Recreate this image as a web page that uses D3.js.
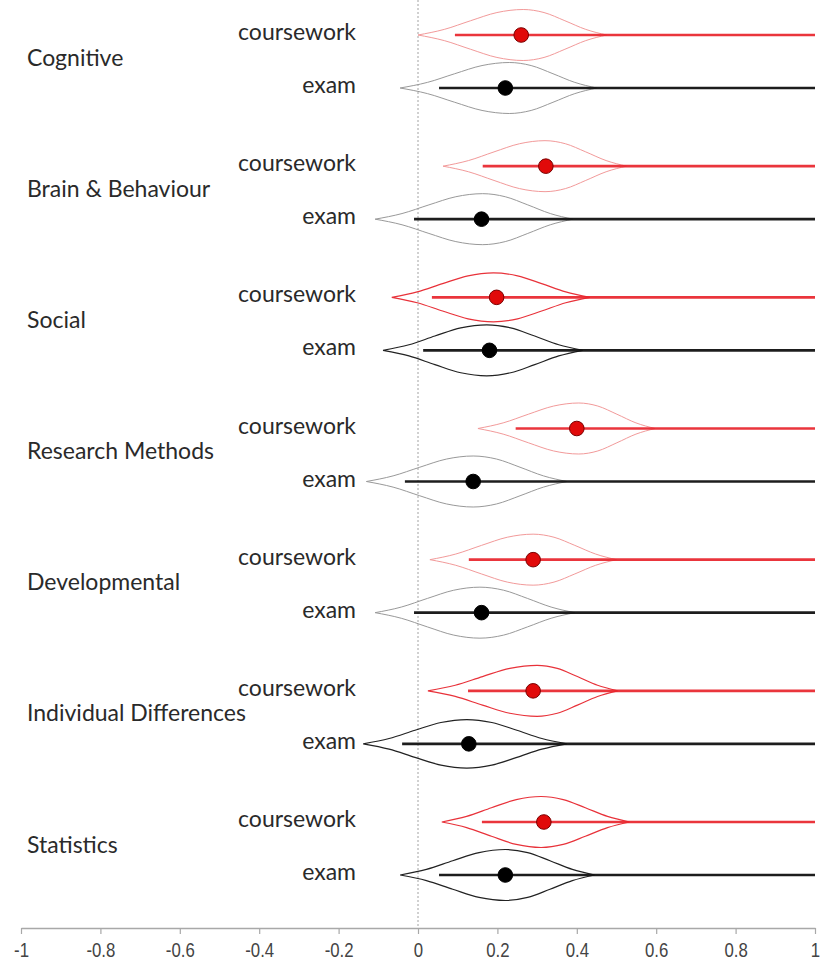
<!DOCTYPE html>
<html>
<head>
<meta charset="utf-8">
<script src="https://cdn.jsdelivr.net/npm/d3@7"></script>
<style>
  html, body { margin: 0; padding: 0; background: #fff; }
  svg { display: block; }
</style>
</head>
<body>
<svg id="chart" width="830" height="962"></svg>
<script>
// ---------------- DATA ----------------
const categories = ["Cognitive", "Brain & Behaviour", "Social", "Research Methods",
                    "Developmental", "Individual Differences", "Statistics"];
const conditions = ["coursework", "exam"];

// point estimates (dots)
const meanCoursework = [0.26, 0.322, 0.198, 0.40, 0.29, 0.29, 0.317];
const meanExam       = [0.22, 0.16, 0.18, 0.139, 0.16, 0.128, 0.22];

// interval lines (lower bound to upper bound)
const lowerCoursework = [0.093, 0.163, 0.035, 0.246, 0.128, 0.126, 0.161];
const lowerExam       = [0.053, -0.01, 0.013, -0.033, -0.01, -0.04, 0.053];
const upperCoursework = [1, 1, 1, 1, 1, 1, 1];
const upperExam       = [1, 1, 1, 1, 1, 1, 1];

// violin extents and modes
const violinMinCoursework  = [0.0, 0.063, -0.066, 0.151, 0.03, 0.025, 0.06];
const violinModeCoursework = [0.265, 0.32, 0.19, 0.405, 0.29, 0.30, 0.31];
const violinMaxCoursework  = [0.475, 0.525, 0.433, 0.597, 0.50, 0.503, 0.533];
const violinMinExam  = [-0.045, -0.108, -0.088, -0.13, -0.108, -0.138, -0.045];
const violinModeExam = [0.23, 0.163, 0.173, 0.139, 0.156, 0.123, 0.22];
const violinMaxExam  = [0.45, 0.39, 0.415, 0.375, 0.395, 0.375, 0.445];
// relative peak density of each violin
const violinPeakCoursework = [1, 1, 0.96, 1, 1, 1, 1];
const violinPeakExam       = [1, 1, 1, 1, 1, 0.95, 1];

// shared violin profile: fraction of distance from tip to mode -> relative density
const profileFrac    = [0, 0.25, 0.5, 0.75, 1];
const profileDensity = [0, 0.22, 0.56, 0.88, 1];

const xTicks = [-1, -0.8, -0.6, -0.4, -0.2, 0, 0.2, 0.4, 0.6, 0.8, 1];
const xTickLabels = ["-1", "-0.8", "-0.6", "-0.4", "-0.2", "0", "0.2", "0.4", "0.6", "0.8", "1"];

// categories whose violins have strong outlines
const strongOutline = new Set(["Social", "Individual Differences", "Statistics"]);

// ---------------- BUILD ROWS ----------------
const rows = [];
categories.forEach((c, i) => {
  rows.push({cat: c, cond: "coursework", mean: meanCoursework[i], lo: lowerCoursework[i], hi: upperCoursework[i],
             vmin: violinMinCoursework[i], vmode: violinModeCoursework[i], vmax: violinMaxCoursework[i], peak: violinPeakCoursework[i]});
  rows.push({cat: c, cond: "exam", mean: meanExam[i], lo: lowerExam[i], hi: upperExam[i],
             vmin: violinMinExam[i], vmode: violinModeExam[i], vmax: violinMaxExam[i], peak: violinPeakExam[i]});
});

// ---------------- SCALES ----------------
const svg = d3.select("#chart");
const x = d3.scaleLinear().domain([-1, 1]).range([21, 815]);
const yCat = d3.scalePoint().domain(categories).range([61.5, 848.5]);
const ySub = d3.scalePoint().domain(conditions).range([-26.5, 26.5]);
const w = d3.scaleLinear().domain([0, 1]).range([0, 25.5]);
const rowY = d => yCat(d.cat) + ySub(d.cond);
const axisY = 928;

const labelFont = "Lato, 'Open Sans', sans-serif";

// zero reference line
svg.append("line")
  .attr("x1", x(0)).attr("x2", x(0))
  .attr("y1", 0).attr("y2", axisY)
  .attr("stroke", "#8a8a8a").attr("stroke-width", 0.8)
  .attr("stroke-dasharray", "2,2");

// violins
const area = d3.area()
  .x(p => x(p[0]))
  .y0(p => p[1])
  .y1(p => p[2])
  .curve(d3.curveMonotoneX);

function violinPoints(d) {
  const cy = rowY(d);
  const pts = [];
  profileFrac.forEach((f, k) => {
    const v = d.vmin + f * (d.vmode - d.vmin);
    const hw = w(profileDensity[k] * d.peak);
    pts.push([v, cy - hw, cy + hw]);
  });
  for (let k = profileFrac.length - 2; k >= 0; k--) {
    const f = profileFrac[k];
    const v = d.vmax - f * (d.vmax - d.vmode);
    const hw = w(profileDensity[k] * d.peak);
    pts.push([v, cy - hw, cy + hw]);
  }
  return pts;
}

const colorFor = d => {
  const strong = strongOutline.has(d.cat);
  if (d.cond === "coursework") return strong ? "#e8323a" : "#f29a9a";
  return strong ? "#222222" : "#999999";
};

svg.append("g").selectAll("path")
  .data(rows).join("path")
  .attr("d", d => area(violinPoints(d)))
  .attr("fill", "none")
  .attr("stroke", colorFor)
  .attr("stroke-width", d => strongOutline.has(d.cat) ? 1.2 : 1);

// interval lines
svg.append("g").selectAll("line")
  .data(rows).join("line")
  .attr("x1", d => x(d.lo)).attr("x2", d => x(d.hi))
  .attr("y1", rowY).attr("y2", rowY)
  .attr("stroke", d => d.cond === "coursework" ? "#e8242b" : "#111")
  .attr("stroke-opacity", d => d.cond === "coursework" ? 0.92 : 0.95)
  .attr("stroke-width", 2.6);

// dots
svg.append("g").selectAll("circle")
  .data(rows).join("circle")
  .attr("cx", d => x(d.mean)).attr("cy", rowY)
  .attr("r", 7.3)
  .attr("fill", d => d.cond === "coursework" ? "#e10a0a" : "#000")
  .attr("stroke", d => d.cond === "coursework" ? "#7a0000" : "#000")
  .attr("stroke-width", 1);

// sub labels
svg.append("g").selectAll("text")
  .data(rows).join("text")
  .attr("x", 356).attr("y", d => rowY(d) - 4)
  .attr("text-anchor", "end")
  .attr("dominant-baseline", "central")
  .attr("font-family", labelFont).attr("font-size", 23)
  .attr("fill", "#2a2a2a")
  .text(d => d.cond);

// category labels
svg.append("g").selectAll("text")
  .data(categories).join("text")
  .attr("x", 27).attr("y", c => yCat(c) - 5)
  .attr("dominant-baseline", "central")
  .attr("font-family", labelFont).attr("font-size", 23)
  .attr("fill", "#2a2a2a")
  .text(c => c);

// x axis
const axis = d3.axisBottom(x)
  .tickValues(xTicks)
  .tickFormat((t, i) => xTickLabels[i])
  .tickSize(6)
  .tickSizeOuter(0);
const gx = svg.append("g").attr("transform", `translate(0,${axisY})`).call(axis);
gx.select(".domain").attr("stroke", "#a8a8a8").attr("stroke-width", 1.6);
gx.selectAll(".tick line").attr("stroke", "#a8a8a8").attr("stroke-width", 1.2);
gx.selectAll(".tick text")
  .attr("font-family", "'Liberation Sans', Arial, sans-serif")
  .attr("font-size", 20)
  .attr("fill", "#444")
  .attr("y", 29)
  .attr("dy", "0")
  .attr("transform", "scale(0.84,1)");
</script>
</body>
</html>
